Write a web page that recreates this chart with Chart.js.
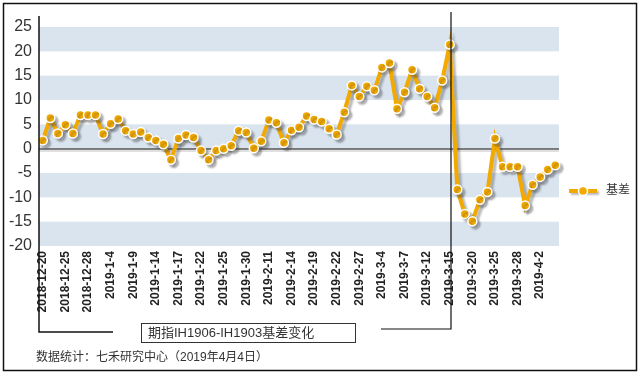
<!DOCTYPE html>
<html>
<head>
<meta charset="utf-8">
<script src="https://cdn.jsdelivr.net/npm/chart.js@4"></script>
<style>
  html, body { margin: 0; padding: 0; background: #fff; }
  canvas { display: block; }
</style>
</head>
<body>
<canvas id="basis" width="641" height="375"></canvas>
<script>
// 交易日
const dates = [
  '2018-12-20','2018-12-21','2018-12-24','2018-12-25','2018-12-26','2018-12-27','2018-12-28',
  '2019-1-2','2019-1-3','2019-1-4','2019-1-7','2019-1-8','2019-1-9','2019-1-10','2019-1-11',
  '2019-1-14','2019-1-15','2019-1-16','2019-1-17','2019-1-18','2019-1-21','2019-1-22','2019-1-23',
  '2019-1-24','2019-1-25','2019-1-28','2019-1-29','2019-1-30','2019-1-31','2019-2-1',
  '2019-2-11','2019-2-12','2019-2-13','2019-2-14','2019-2-15','2019-2-18','2019-2-19','2019-2-20',
  '2019-2-21','2019-2-22','2019-2-25','2019-2-26','2019-2-27','2019-2-28','2019-3-1',
  '2019-3-4','2019-3-5','2019-3-6','2019-3-7','2019-3-8','2019-3-11','2019-3-12','2019-3-13',
  '2019-3-14','2019-3-15','2019-3-18','2019-3-19','2019-3-20','2019-3-21','2019-3-22',
  '2019-3-25','2019-3-26','2019-3-27','2019-3-28','2019-3-29','2019-4-1','2019-4-2','2019-4-3','2019-4-4'
];

// 基差 (IH1906 - IH1903)
const basis = [
  1.7, 6.3, 3.1, 4.9, 3.1, 6.9, 6.9, 6.9, 3.0, 5.1,
  6.1, 3.7, 3.0, 3.4, 2.3, 1.7, 0.9, -2.3, 2.1, 2.8,
  2.3, -0.4, -2.3, -0.4, 0.0, 0.6, 3.7, 3.3, 0.1, 1.5,
  5.9, 5.3, 1.2, 3.8, 4.4, 6.7, 6.0, 5.6, 4.1, 2.9,
  7.5, 13.0, 10.7, 12.8, 12.0, 16.7, 17.6, 8.2, 11.6, 16.2,
  12.3, 10.7, 8.4, 14.0, 21.4, -8.4, -13.4, -14.9, -10.5, -8.9,
  2.1, -3.7, -3.7, -3.7, -11.7, -7.4, -5.8, -4.3, -3.4
];

// 横轴上显示的日期
const tickLabels = [
  '2018-12-20','2018-12-25','2018-12-28','2019-1-4','2019-1-9','2019-1-14','2019-1-17',
  '2019-1-22','2019-1-25','2019-1-30','2019-2-11','2019-2-14','2019-2-19','2019-2-22',
  '2019-2-27','2019-3-4','2019-3-7','2019-3-12','2019-3-15','2019-3-20','2019-3-25',
  '2019-3-28','2019-4-2'
];

const yTicks = [-20, -15, -10, -5, 0, 5, 10, 15, 20, 25];
const markDate = '2019-3-15';
const seriesName = '基差';
const titleText = '期指IH1906-IH1903基差变化';
const footText = '数据统计：七禾研究中心（2019年4月4日）';

const ORANGE = '#f2a900';
const BAND = '#d9e4ef';
const FONT = "Arial, 'Liberation Sans', 'Noto Sans CJK SC', sans-serif";

// 背景条纹、零线
const bandsPlugin = {
  id: 'bands',
  beforeDatasetsDraw(chart) {
    const { ctx, chartArea: a, scales: { y } } = chart;
    ctx.save();
    ctx.fillStyle = BAND;
    for (let i = 0; i < yTicks.length - 1; i += 2) {
      const top = y.getPixelForValue(yTicks[i + 1]);
      const bot = y.getPixelForValue(yTicks[i]);
      ctx.fillRect(a.left, top, a.right - a.left, bot - top);
    }
    const y0 = Math.round(y.getPixelForValue(0));
    ctx.fillStyle = 'rgba(0,0,0,0.12)';
    ctx.fillRect(a.left, y0 + 1, a.right - a.left, 2);
    ctx.strokeStyle = '#555';
    ctx.lineWidth = 1.5;
    ctx.beginPath();
    ctx.moveTo(a.left, y0);
    ctx.lineTo(a.right, y0);
    ctx.stroke();
    ctx.restore();
  }
};

const shadowPlugin = {
  id: 'lineShadow',
  beforeDatasetsDraw(chart) {
    const ctx = chart.ctx;
    ctx.save();
    ctx.shadowColor = 'rgba(60,60,60,0.35)';
    ctx.shadowBlur = 2;
    ctx.shadowOffsetX = 3;
    ctx.shadowOffsetY = 3;
  },
  afterDatasetsDraw(chart) {
    chart.ctx.restore();
  }
};

// 轴线、标注线、标题框、图例、脚注、外框
const decorPlugin = {
  id: 'decor',
  afterDraw(chart) {
    const { ctx, chartArea: a, scales: { x } } = chart;
    ctx.save();
    ctx.strokeStyle = '#111';
    ctx.lineWidth = 1.5;

    // 左侧纵轴与底部连线
    ctx.beginPath();
    ctx.moveTo(a.left, 16);
    ctx.lineTo(a.left, 332);
    ctx.lineTo(113, 332);
    ctx.stroke();

    // 3-15 标注线
    const mx = Math.round(x.getPixelForValue(dates.indexOf(markDate))) + 1;
    ctx.lineWidth = 1.2;
    ctx.beginPath();
    ctx.moveTo(mx, 12);
    ctx.lineTo(mx, 329);
    ctx.lineTo(381, 329);
    ctx.stroke();

    // 标题框
    ctx.lineWidth = 1;
    ctx.strokeStyle = '#333';
    ctx.strokeRect(141.5, 323.5, 214, 19);
    ctx.fillStyle = '#333';
    ctx.font = '13px ' + FONT;
    ctx.textBaseline = 'middle';
    ctx.textAlign = 'left';
    ctx.fillText(titleText, 148, 333.5);

    // 脚注
    ctx.fillStyle = '#333';
    ctx.font = '12px ' + FONT;
    ctx.fillText(footText, 36, 358);

    // 图例
    const ly = 191;
    ctx.save();
    ctx.shadowColor = 'rgba(60,60,60,0.35)';
    ctx.shadowBlur = 2;
    ctx.shadowOffsetX = 2;
    ctx.shadowOffsetY = 2;
    ctx.strokeStyle = ORANGE;
    ctx.lineWidth = 4;
    ctx.beginPath();
    ctx.moveTo(569, ly);
    ctx.lineTo(597, ly);
    ctx.stroke();
    ctx.restore();
    ctx.beginPath();
    ctx.arc(583, ly, 4.5, 0, Math.PI * 2);
    ctx.fillStyle = ORANGE;
    ctx.fill();
    ctx.strokeStyle = '#fff';
    ctx.lineWidth = 1.5;
    ctx.stroke();
    ctx.fillStyle = '#333';
    ctx.font = '12px ' + FONT;
    ctx.fillText(seriesName, 606, ly);

    // 外框
    ctx.strokeStyle = '#111';
    ctx.lineWidth = 1.5;
    ctx.strokeRect(3.5, 3.5, 633, 367);
    ctx.restore();
  }
};

new Chart(document.getElementById('basis'), {
  type: 'line',
  data: {
    labels: dates,
    datasets: [{
      label: seriesName,
      data: basis,
      borderColor: ORANGE,
      borderWidth: 4,
      pointRadius: 4.5,
      pointBackgroundColor: ORANGE,
      pointBorderColor: '#fff',
      pointBorderWidth: 1.5,
      tension: 0
    }]
  },
  options: {
    responsive: false,
    animation: false,
    devicePixelRatio: 1,
    layout: { padding: { left: 0, top: 27, right: 82, bottom: 0 } },
    plugins: {
      legend: { display: false },
      tooltip: { enabled: false }
    },
    scales: {
      x: {
        offset: true,
        grid: { display: false, drawTicks: false },
        border: { display: false },
        afterFit(scale) { scale.height = 129; },
        ticks: {
          autoSkip: false,
          minRotation: 90,
          maxRotation: 90,
          padding: 5,
          color: '#222',
          font: { family: FONT, size: 12, weight: 'bold' },
          callback(value) {
            const d = this.getLabelForValue(value);
            return tickLabels.includes(d) ? d : '';
          }
        }
      },
      y: {
        min: -20,
        max: 25,
        grid: { display: false, drawTicks: false },
        border: { display: false },
        afterFit(scale) { scale.width = 39; },
        ticks: {
          stepSize: 5,
          padding: 7,
          color: '#333',
          font: { family: FONT, size: 16 }
        }
      }
    }
  },
  plugins: [bandsPlugin, shadowPlugin, decorPlugin]
});
</script>
</body>
</html>
